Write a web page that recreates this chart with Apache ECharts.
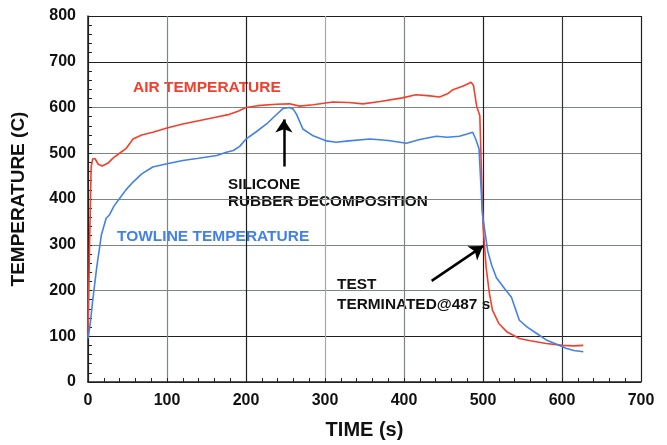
<!DOCTYPE html>
<html>
<head>
<meta charset="utf-8">
<script src="https://cdn.jsdelivr.net/npm/echarts@6/dist/echarts.min.js"></script>
<style>
  html, body { margin: 0; padding: 0; background: #fff; }
  #chart { width: 667px; height: 445px; }
</style>
</head>
<body>
<div id="chart"></div>
<script>
// air temperature
const airTime = [0, 2, 4, 6, 9, 13, 18, 25, 32, 40, 48, 57, 68, 82, 100, 120, 140, 160, 179, 190, 200, 215, 238, 255, 268, 285, 310, 330, 348, 370, 398, 415, 430, 445, 455, 462, 475, 485, 488, 492, 496, 499, 500, 504, 508, 512, 520, 530, 546, 560, 580, 601, 615, 627];
const airTemp = [100, 300, 470, 488, 488, 476, 472, 478, 490, 500, 510, 531, 540, 546, 555, 564, 571, 578, 585, 592, 600, 604, 607, 608, 603, 606, 612, 611, 608, 613, 621, 628, 626, 623, 630, 639, 647, 655, 648, 603, 582, 401, 344, 250, 195, 157, 128, 110, 95, 90, 84, 80, 79, 80];

// towline temperature
const towTime = [0, 3, 6, 11, 17, 23, 27, 33, 40, 48, 57, 68, 82, 100, 120, 140, 163, 175, 184, 192, 200, 213, 226, 237, 247, 255, 260, 264, 272, 285, 302, 314, 330, 357, 380, 403, 420, 441, 455, 470, 480, 487, 491, 495, 499, 500, 506, 511, 517, 527, 536, 541, 546, 556, 568, 580, 591, 605, 615, 627];
const towTemp = [95, 130, 179, 250, 322, 358, 365, 385, 401, 420, 437, 455, 470, 477, 484, 489, 495, 502, 506, 515, 531, 547, 564, 582, 598, 600, 596, 585, 553, 538, 527, 524, 527, 531, 528, 522, 530, 537, 535, 537, 542, 546, 530, 510, 373, 358, 286, 255, 228, 205, 185, 160, 135, 120, 106, 92, 84, 74, 69, 66];

// arrows (data coords)
const siliconeArrow = [[248, 471], [248, 574]];
const stopArrow = [[435, 221], [500, 297]];

const xTicks = [0, 100, 200, 300, 400, 500, 600, 700];
const yTicks = [0, 100, 200, 300, 400, 500, 600, 700, 800];

const FONT = "'Liberation Sans', Arial, sans-serif";
const RED = '#f2402c';
const BLUE = '#4282e6';
const DARK = '#202020';
const GRAY = '#7d8585';

function zip(a, b) {
  const out = [];
  for (let i = 0; i < a.length; i++) out.push([a[i], b[i]]);
  return out;
}

const chart = echarts.init(document.getElementById('chart'));
chart.setOption({
  backgroundColor: '#fff',
  animation: false,
  grid: { left: 88, right: 26, top: 16, bottom: 59 },
  xAxis: {
    type: 'value',
    min: xTicks[0],
    max: xTicks[xTicks.length - 1],
    interval: 100,
    name: 'TIME (s)',
    nameLocation: 'middle',
    nameGap: 38,
    nameTextStyle: { fontFamily: FONT, fontWeight: 'bold', fontSize: 20, color: '#111' },
    axisLine: { show: true, lineStyle: { color: DARK, width: 1.5 } },
    axisTick: { show: true, inside: true, length: 4, lineStyle: { color: DARK } },
    minorTick: { show: true, splitNumber: 5, length: 4, lineStyle: { color: DARK } },
    axisLabel: { fontFamily: FONT, fontWeight: 'bold', fontSize: 16, color: '#111', margin: 11 },
    splitLine: { show: true, lineStyle: { width: 1.2, color: [DARK, GRAY, DARK, '#a4aaaa', GRAY, DARK, '#333', DARK] } }
  },
  yAxis: {
    type: 'value',
    min: yTicks[0],
    max: yTicks[yTicks.length - 1],
    interval: 100,
    name: 'TEMPERATURE (C)',
    nameLocation: 'middle',
    nameGap: 60,
    nameTextStyle: { fontFamily: FONT, fontWeight: 'bold', fontSize: 19, color: '#111' },
    axisLine: { show: true, lineStyle: { color: DARK, width: 1.5 } },
    axisTick: { show: true, inside: true, length: 4, lineStyle: { color: DARK } },
    minorTick: { show: true, splitNumber: 5, length: 4, lineStyle: { color: DARK } },
    axisLabel: { fontFamily: FONT, fontWeight: 'bold', fontSize: 16, color: '#111', margin: 12 },
    splitLine: { show: true, lineStyle: { width: 1.2, color: [DARK, DARK, GRAY, GRAY, GRAY, GRAY, GRAY, DARK, DARK] } }
  },
  series: [
    {
      name: 'AIR TEMPERATURE',
      type: 'line',
      data: zip(airTime, airTemp),
      showSymbol: false,
      lineStyle: { color: RED, width: 1.6 },
      itemStyle: { color: RED },
      z: 3,
      markLine: {
        silent: true,
        symbol: ['none', 'arrow'],
        symbolSize: 13,
        label: { show: false },
        lineStyle: { color: '#000', width: 2.5, type: 'solid' },
        data: [
          [{ coord: siliconeArrow[0] }, { coord: siliconeArrow[1] }],
          [{ coord: stopArrow[0] }, { coord: stopArrow[1] }]
        ]
      }
    },
    {
      name: 'TOWLINE TEMPERATURE',
      type: 'line',
      data: zip(towTime, towTemp),
      showSymbol: false,
      lineStyle: { color: BLUE, width: 1.6 },
      itemStyle: { color: BLUE },
      z: 4
    }
  ],
  graphic: [
    { type: 'text', left: 133, top: 80, style: { text: 'AIR TEMPERATURE', fill: RED, font: 'bold 15.5px ' + FONT } },
    { type: 'text', left: 117, top: 229, style: { text: 'TOWLINE TEMPERATURE', fill: BLUE, font: 'bold 15.5px ' + FONT } },
    { type: 'text', left: 228, top: 176, style: { text: 'SILICONE\nRUBBER DECOMPOSITION', fill: '#111', font: 'bold 15.3px ' + FONT, lineHeight: 17 } },
    { type: 'text', left: 337, top: 275, style: { text: 'TEST\nTERMINATED@487 s', fill: '#111', font: 'bold 15.4px ' + FONT, lineHeight: 20 } }
  ]
});
</script>
</body>
</html>
